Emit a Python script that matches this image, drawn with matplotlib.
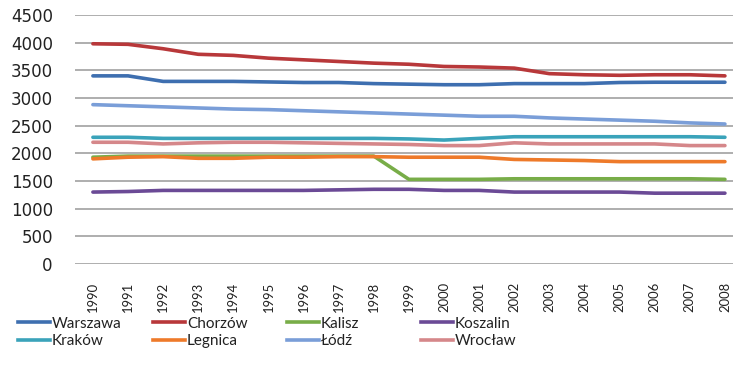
import matplotlib
matplotlib.use("Agg")
import matplotlib.pyplot as plt
from matplotlib.lines import Line2D

plt.rcParams['font.family'] = ['Lato', 'DejaVu Sans']

years = list(range(1990, 2009))

warszawa = [3400, 3400, 3300, 3300, 3300, 3290, 3280, 3280, 3260, 3250, 3240, 3240, 3260, 3260, 3260, 3280, 3285, 3285, 3285]
chorzow = [3980, 3970, 3890, 3790, 3770, 3720, 3690, 3660, 3630, 3610, 3570, 3560, 3540, 3440, 3420, 3410, 3420, 3420, 3400]
kalisz = [1930, 1950, 1950, 1950, 1950, 1950, 1950, 1950, 1950, 1530, 1530, 1530, 1540, 1540, 1540, 1540, 1540, 1540, 1530]
koszalin = [1300, 1310, 1330, 1330, 1330, 1330, 1330, 1340, 1350, 1350, 1330, 1330, 1300, 1300, 1300, 1300, 1280, 1280, 1280]
krakow = [2290, 2290, 2270, 2270, 2270, 2270, 2270, 2270, 2270, 2260, 2240, 2270, 2300, 2300, 2300, 2300, 2300, 2300, 2290]
legnica = [1900, 1930, 1940, 1910, 1910, 1930, 1930, 1940, 1940, 1930, 1930, 1930, 1890, 1880, 1870, 1850, 1850, 1850, 1850]
lodz = [2880, 2860, 2840, 2820, 2800, 2790, 2770, 2750, 2730, 2710, 2690, 2670, 2670, 2640, 2620, 2600, 2580, 2550, 2530]
wroclaw = [2200, 2200, 2170, 2190, 2200, 2200, 2190, 2180, 2170, 2160, 2140, 2140, 2190, 2170, 2170, 2170, 2170, 2140, 2140]

names = ['Warszawa', 'Chorzów', 'Kalisz', 'Koszalin', 'Kraków', 'Legnica', 'Łódź', 'Wrocław']
series = [warszawa, chorzow, kalisz, koszalin, krakow, legnica, lodz, wroclaw]
colors = ['#3E6FB0', '#B8383A', '#78AD48', '#6B4A96', '#3AA3BA', '#EE7A2A', '#7A9ED8', '#D5878A']

fig = plt.figure(figsize=(7.33, 3.71), dpi=100)
ax = fig.add_axes([75/733, 1 - 264/371, (733 - 75)/733, (264 - 15)/371])

for vals, c in zip(series, colors):
    ax.plot(years, vals, color=c, lw=2.6, solid_capstyle='round', zorder=3)

ax.set_ylim(0, 4500)
ax.set_xlim(1989.49, 2008.23)
ax.set_yticks(range(0, 4501, 500))
ax.set_xticks(years)
ax.set_xticklabels([str(y) for y in years], rotation=90)
ax.yaxis.grid(True, color='#A8A8A8', lw=1.3, zorder=0)
for s in ax.spines.values():
    s.set_visible(False)
ax.tick_params(axis='both', length=0, colors='#222222')
ax.tick_params(axis='y', pad=16, labelsize=12)
ax.tick_params(axis='x', pad=13, labelsize=9.4)
for lbl in ax.get_yticklabels():
    lbl.set_family('DejaVu Sans')

# legend laid out as 4 equal-width columns, 2 rows
col_x = [18, 153, 287, 421]
row_y = [323, 342]
for i in range(4):
    handles = [Line2D([], [], color=colors[i + 4 * r], lw=2.6) for r in range(2)]
    leg = fig.legend(handles, [names[i], names[i + 4]], loc='center left',
                     bbox_to_anchor=(col_x[i]/733, 1 - (row_y[0] + row_y[1])/2/371),
                     frameon=False, fontsize=11, handlelength=2.1, handletextpad=0.13,
                     borderpad=0, borderaxespad=0, labelspacing=0.25)
    for t in leg.get_texts():
        t.set_color('#222222')

fig.savefig('out.png', dpi=100)
